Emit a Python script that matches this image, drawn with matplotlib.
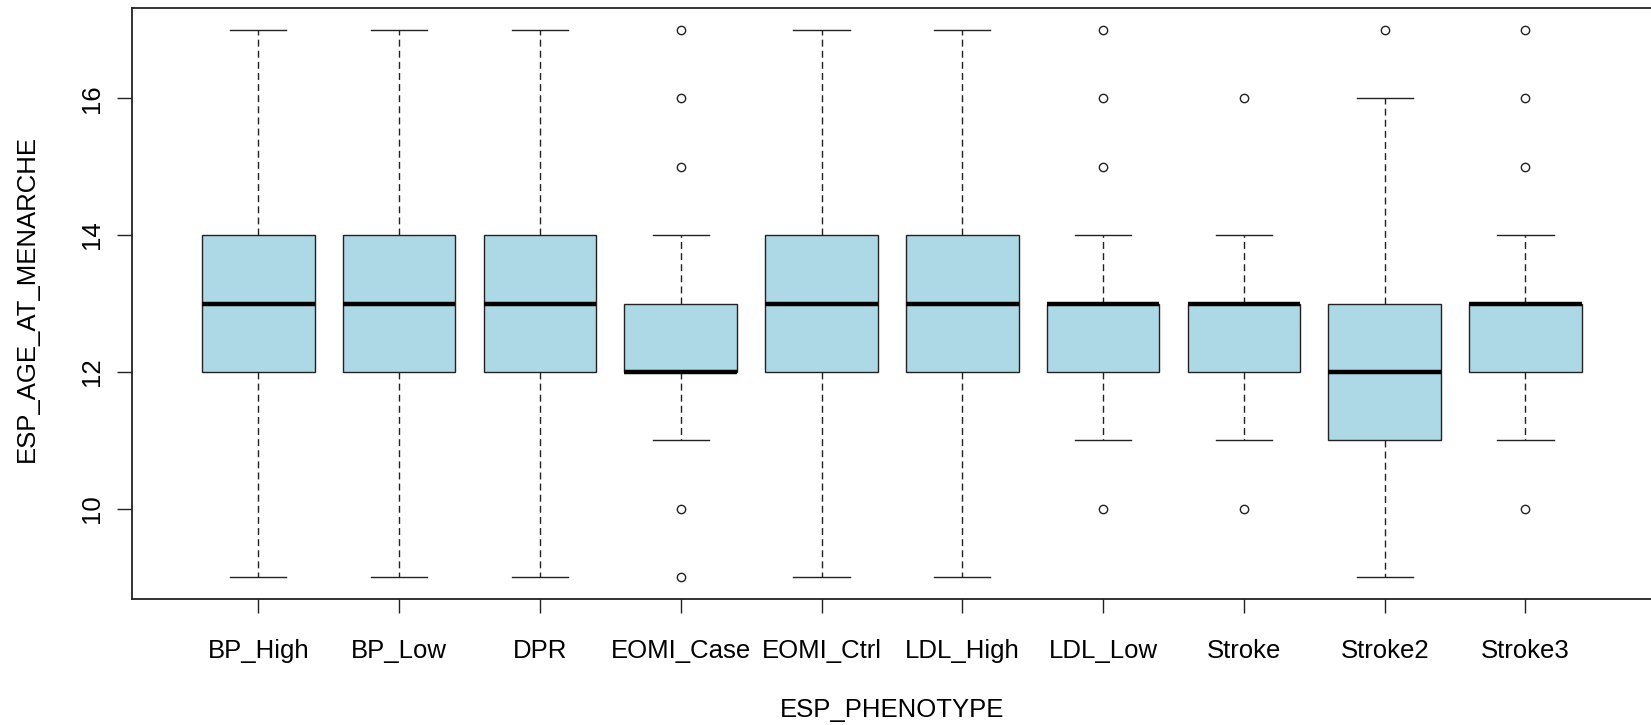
import matplotlib

matplotlib.use("Agg")
import matplotlib.pyplot as plt

# Per-phenotype summary of age at menarche
phenotypes = ["BP_High", "BP_Low", "DPR", "EOMI_Case", "EOMI_Ctrl",
              "LDL_High", "LDL_Low", "Stroke", "Stroke2", "Stroke3"]
whisker_low = [9, 9, 9, 11, 9, 9, 11, 11, 9, 11]
q1 = [12, 12, 12, 12, 12, 12, 12, 12, 11, 12]
median = [13, 13, 13, 12, 13, 13, 13, 13, 12, 13]
q3 = [14, 14, 14, 13, 14, 14, 13, 13, 13, 13]
whisker_high = [17, 17, 17, 14, 17, 17, 14, 14, 16, 14]
outliers = [
    [], [], [],
    [9, 10, 15, 16, 17],
    [], [],
    [10, 15, 16, 17],
    [10, 16],
    [17],
    [10, 15, 16, 17],
]

plt.rcParams["font.family"] = ["Liberation Sans", "DejaVu Sans"]

stats = [
    {"label": name, "whislo": lo, "q1": a, "med": m, "q3": b, "whishi": hi, "fliers": fl}
    for name, lo, a, m, b, hi, fl in zip(phenotypes, whisker_low, q1, median, q3,
                                         whisker_high, outliers)
]

fig = plt.figure(figsize=(16.51, 7.25), dpi=100)
ax = fig.add_axes([131.6 / 1651, 1 - 599 / 725, 1520.6 / 1651, 591 / 725])

positions = list(range(1, len(phenotypes) + 1))
ax.bxp(
    stats,
    positions=positions,
    widths=0.8,
    capwidths=0.4,
    patch_artist=True,
    boxprops=dict(facecolor="#ADD8E6", edgecolor="#222222", linewidth=1.0),
    medianprops=dict(color="black", linewidth=3.2, solid_capstyle="butt"),
    whiskerprops=dict(color="#222222", linewidth=1.0, linestyle=(0, (5, 3))),
    capprops=dict(color="#222222", linewidth=1.0),
    flierprops=dict(marker="o", markersize=6, markerfacecolor="none",
                    markeredgecolor="#222222", markeredgewidth=1.0),
)

ax.set_xlim(0.1, len(phenotypes) + 0.9)
ax.set_ylim(8.68, 17.32)
ax.set_yticks([10, 12, 14, 16])
ax.set_xticks(positions)
ax.set_xticklabels(phenotypes)

for spine in ax.spines.values():
    spine.set_linewidth(1.3)
    spine.set_color("#222222")

ax.tick_params(axis="x", length=10, width=1.0, pad=19, labelsize=18.5, color="#222222")
ax.tick_params(axis="y", length=11, width=1.0, pad=9, labelsize=18.5, color="#222222")
for lbl in ax.get_yticklabels():
    lbl.set_rotation(90)
    lbl.set_va("center")

ax.set_xlabel("ESP_PHENOTYPE", fontsize=18.5)
ax.set_ylabel("ESP_AGE_AT_MENARCHE", fontsize=18.5)
ax.xaxis.set_label_coords(0.5, (599 - 710) / 591)
ax.xaxis.label.set_va("center")
ax.yaxis.set_label_coords((27 - 131.6) / 1520.6, (599 - 298) / 591)
ax.yaxis.label.set_va("center")

fig.savefig("out.png", dpi=100)
plt.close(fig)
